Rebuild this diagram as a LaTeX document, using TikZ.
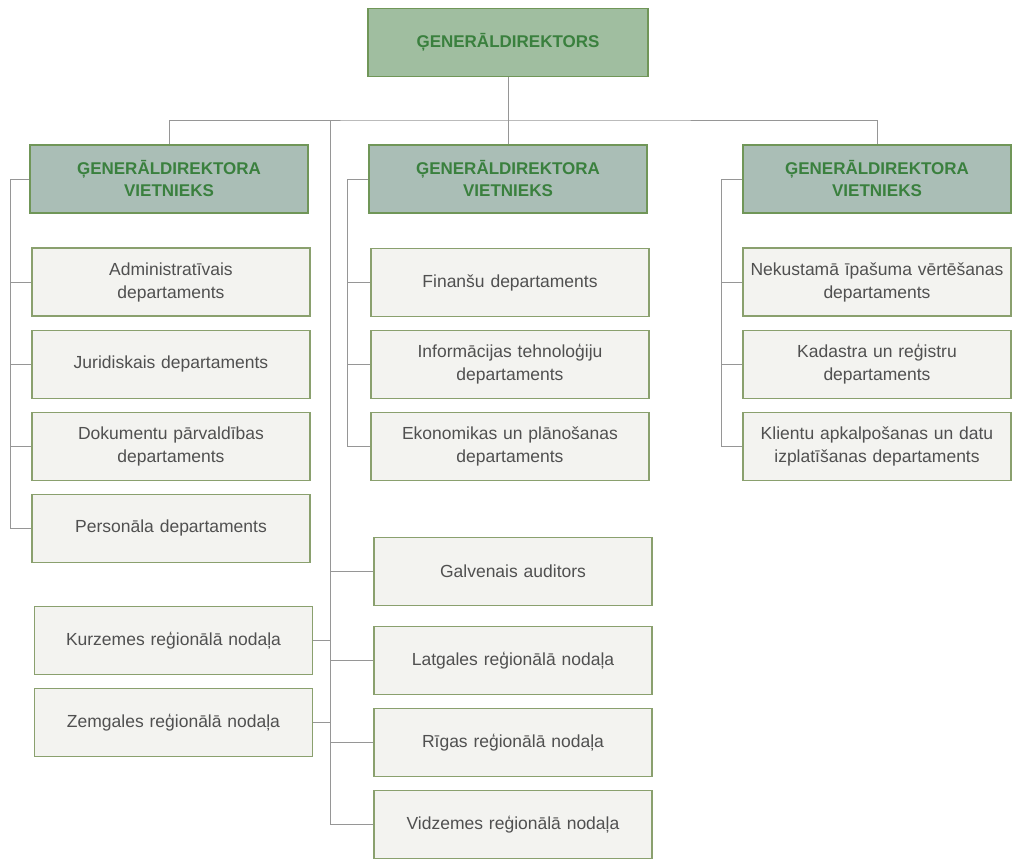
\documentclass[tikz,border=0pt]{standalone}
\usepackage{fontspec}
\setmainfont{Liberation Sans}
\usetikzlibrary{positioning}
\definecolor{chartGreen}{RGB}{58,128,62}
\definecolor{boxEdge}{RGB}{112,150,88}
\definecolor{topFill}{RGB}{160,190,160}
\definecolor{vpFill}{RGB}{170,190,182}
\definecolor{unitFill}{RGB}{243,243,240}
\definecolor{unitEdge}{RGB}{138,160,110}
\definecolor{unitText}{RGB}{80,80,80}
\definecolor{lineGray}{RGB}{150,150,150}

\begin{document}
\begin{tikzpicture}[x=1pt,y=-1pt,node distance=13pt,
 headbox/.style={draw=boxEdge,line width=1.3pt,fill=vpFill,text=chartGreen,font=\fontsize{17}{22}\selectfont\bfseries,align=center,text width=270pt,inner xsep=4pt,inner ysep=0pt,minimum height=68pt},
 unitbox/.style={draw=unitEdge,line width=1.1pt,fill=unitFill,text=unitText,font=\fontsize{17.5}{23}\selectfont,align=center,text width=270pt,inner xsep=4pt,inner ysep=0pt,minimum height=68pt},
 link/.style={draw=lineGray,line width=.9pt}]
\useasboundingbox (0,0) rectangle (1013,860);

\node[headbox,fill=topFill,text width=272pt] (gd) at (508,42.5) {ĢENERĀLDIREKTORS};
\node[headbox] (lvp) at (169,179) {ĢENERĀLDIREKTORA\\VIETNIEKS};
\node[headbox] (mvp) at (508,179) {ĢENERĀLDIREKTORA\\VIETNIEKS};
\node[headbox,text width=260pt] (rvp) at (877,179) {ĢENERĀLDIREKTORA\\VIETNIEKS};

\node[unitbox] (adm) at (171,282) {Administratīvais\\departaments};
\node[unitbox,below=of adm] (jur) {Juridiskais departaments};
\node[unitbox,below=of jur] (dok) {Dokumentu pārvaldības\\departaments};
\node[unitbox,below=of dok] (pers) {Personāla departaments};

\node[unitbox] (fin) at (510,282.5) {Finanšu departaments};
\node[unitbox,below=of fin] (itd) {Informācijas tehnoloģiju\\departaments};
\node[unitbox,below=of itd] (eko) {Ekonomikas un plānošanas\\departaments};

\node[unitbox,text width=260pt] (nek) at (877,282) {Nekustamā īpašuma vērtēšanas\\departaments};
\node[unitbox,text width=260pt,below=of nek] (kad) {Kadastra un reģistru\\departaments};
\node[unitbox,text width=260pt,below=of kad] (kli) {Klientu apkalpošanas un datu\\izplatīšanas departaments};

\node[unitbox] (galv) at (513,571.5) {Galvenais auditors};
\node[unitbox,below=20pt of galv] (latg) {Latgales reģionālā nodaļa};
\node[unitbox,below=of latg] (riga) {Rīgas reģionālā nodaļa};
\node[unitbox,below=of riga] (vidz) {Vidzemes reģionālā nodaļa};

\node[unitbox] (kurz) at (173.5,640.5) {Kurzemes reģionālā nodaļa};
\node[unitbox,below=of kurz] (zemg) {Zemgales reģionālā nodaļa};

\coordinate (bus) at (508,120);
\coordinate (trunk) at (330,120);
\coordinate (lrail) at (10,0);
\coordinate (mrail) at (347,0);
\coordinate (rrail) at (721,0);

\draw[link] (gd) -- (mvp);
\draw[link] (lvp.north) |- (bus) -| (rvp.north);
\draw[link] (trunk) |- (vidz.west);
\foreach \n in {galv,latg,riga} \draw[link] (\n.west) -- (\n.west -| trunk);
\foreach \n in {kurz,zemg} \draw[link] (\n.east) -- (\n.east -| trunk);

\draw[link] (lvp.west) -| (lrail |- pers.west) -- (pers.west);
\foreach \n in {adm,jur,dok} \draw[link] (\n.west) -- (\n.west -| lrail);
\draw[link] (mvp.west) -| (mrail |- eko.west) -- (eko.west);
\foreach \n in {fin,itd} \draw[link] (\n.west) -- (\n.west -| mrail);
\draw[link] (rvp.west) -| (rrail |- kli.west) -- (kli.west);
\foreach \n in {nek,kad} \draw[link] (\n.west) -- (\n.west -| rrail);
\end{tikzpicture}
\end{document}
